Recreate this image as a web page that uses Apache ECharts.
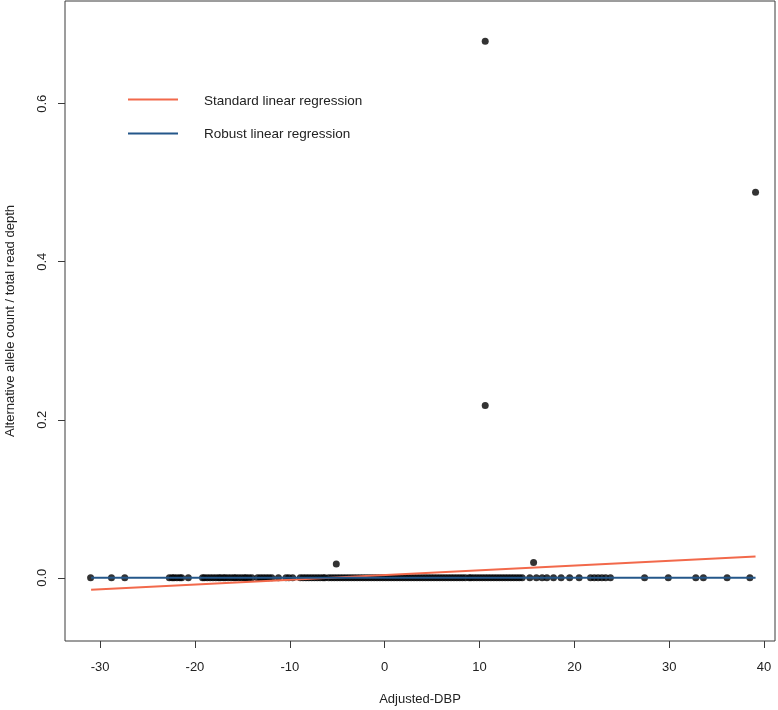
<!DOCTYPE html>
<html><head><meta charset="utf-8">
<script src="https://cdn.jsdelivr.net/npm/echarts@6/dist/echarts.min.js"></script>
<style>html,body{margin:0;padding:0;background:#fff}#c{width:778px;height:710px}</style>
</head><body><div id="c"></div>
<script>
// Samples with ratio 0 (x = Adjusted-DBP)
const zeroX = [-31.0, -28.8, -27.4, -22.7, -22.4, -22.2, -21.9, -21.6, -21.4, -20.7,
  -19.2, -19.0, -18.7, -18.4, -18.1, -17.8, -17.5, -17.3, -17.0, -16.8, -16.5, -16.2, -15.9, -15.7,
  -15.4, -15.1, -14.8, -14.6, -14.3, -14.0, -13.4, -13.1, -12.8, -12.5, -12.2, -11.9, -11.2,
  -10.4, -10.1, -9.7, -8.9, -8.6, -8.3, -8.0, -7.7, -7.4, -7.1, -6.8, -6.5, -6.3, -5.9, -5.6,
  -5.3, -5.0, -4.7, -4.4, -4.1, -3.8, -3.5, -3.2, -2.9, -2.6, -2.3, -2.0, -1.7, -1.4, -1.1,
  -0.8, -0.5, -0.2, 0.1, 0.4, 0.7, 1.0, 1.3, 1.6, 1.9, 2.2, 2.5, 2.8, 3.1, 3.4, 3.7, 4.0,
  4.3, 4.6, 4.9, 5.2, 5.5, 5.8, 6.1, 6.4, 6.7, 7.0, 7.3, 7.6, 7.9, 8.2, 8.5, 8.9, 9.1, 9.4,
  9.7, 10.0, 10.3, 10.6, 10.9, 11.2, 11.5, 11.8, 12.1, 12.4, 12.7, 13.0, 13.3, 13.6, 13.9,
  14.2, 14.5, 15.3, 16.0, 16.6, 17.1, 17.8, 18.6, 19.5, 20.5, 21.7, 22.1, 22.5, 22.9, 23.3,
  23.8, 27.4, 29.9, 32.8, 33.6, 36.1, 38.5];
// Samples with non-zero ratio
const otherX = [10.6, 39.1, 10.6, -5.1, 15.7];
const otherY = [0.679, 0.488, 0.218, 0.0174, 0.0194];
// Fitted lines (endpoints)
const lineX = [-30.95, 39.1];
const stdY = [-0.0152, 0.027];
const robY = [0.0, 0.0];
const xTicks = [-30, -20, -10, 0, 10, 20, 30, 40];
const yTicks = [0, 0.2, 0.4, 0.6];
const seriesNames = ['Standard linear regression', 'Robust linear regression'];
const xName = 'Adjusted-DBP';
const yName = 'Alternative allele count / total read depth';

const pts = zeroX.map(x => [x, 0]).concat(otherX.map((x, i) => [x, otherY[i]]));
const font = 'Arial, "Liberation Sans", sans-serif';
const RED = '#f2694b', BLUE = '#24578a';

const chart = echarts.init(document.getElementById('c'), null, {renderer: 'canvas'});
chart.setOption({
  animation: false,
  backgroundColor: '#fff',
  grid: {left: 65, right: 3, top: 1, bottom: 69, show: true, borderColor: '#3a3a3a', borderWidth: 1,
    backgroundColor: 'transparent', containLabel: false, outerBoundsMode: 'none'},
  xAxis: {
    type: 'value', min: -33.7, max: 41.15,
    name: xName, nameLocation: 'middle', nameGap: 52,
    nameTextStyle: {fontFamily: font, fontSize: 13, color: '#222'},
    axisLine: {show: false, onZero: false},
    axisTick: {show: true, customValues: xTicks, length: 7, inside: false, lineStyle: {color: '#3a3a3a'}},
    axisLabel: {customValues: xTicks, margin: 20, fontFamily: font, fontSize: 13, color: '#222'},
    splitLine: {show: false}
  },
  yAxis: {
    type: 'value', min: -0.08, max: 0.73,
    name: yName, nameLocation: 'middle', nameGap: 48, nameRotate: 90,
    nameTextStyle: {fontFamily: font, fontSize: 13, color: '#222'},
    axisLine: {show: false, onZero: false},
    axisTick: {show: true, customValues: yTicks, length: 7, lineStyle: {color: '#3a3a3a'}},
    axisLabel: {customValues: yTicks, rotate: 90, margin: 16, fontFamily: font, fontSize: 13, color: '#222',
      formatter: v => v.toFixed(1)},
    splitLine: {show: false}
  },
  series: [
    {type: 'scatter', data: pts, symbol: 'circle', symbolSize: 7, itemStyle: {color: '#000'}, z: 2, silent: true},
    {name: seriesNames[0], type: 'line', data: lineX.map((x, i) => [x, stdY[i]]), showSymbol: false,
      lineStyle: {color: RED, width: 2}, z: 3, silent: true},
    {name: seriesNames[1], type: 'line', data: lineX.map((x, i) => [x, robY[i]]), showSymbol: false,
      lineStyle: {color: BLUE, width: 2}, z: 4, silent: true}
  ],
  graphic: [
    {type: 'line', shape: {x1: 128, y1: 99.5, x2: 178, y2: 99.5}, style: {stroke: RED, lineWidth: 2}},
    {type: 'text', x: 204, y: 101, style: {text: seriesNames[0], font: '13.5px ' + font, fill: '#222', textVerticalAlign: 'middle'}},
    {type: 'line', shape: {x1: 128, y1: 133.5, x2: 178, y2: 133.5}, style: {stroke: BLUE, lineWidth: 2}},
    {type: 'text', x: 204, y: 134, style: {text: seriesNames[1], font: '13.5px ' + font, fill: '#222', textVerticalAlign: 'middle'}}
  ]
});
</script></body></html>
